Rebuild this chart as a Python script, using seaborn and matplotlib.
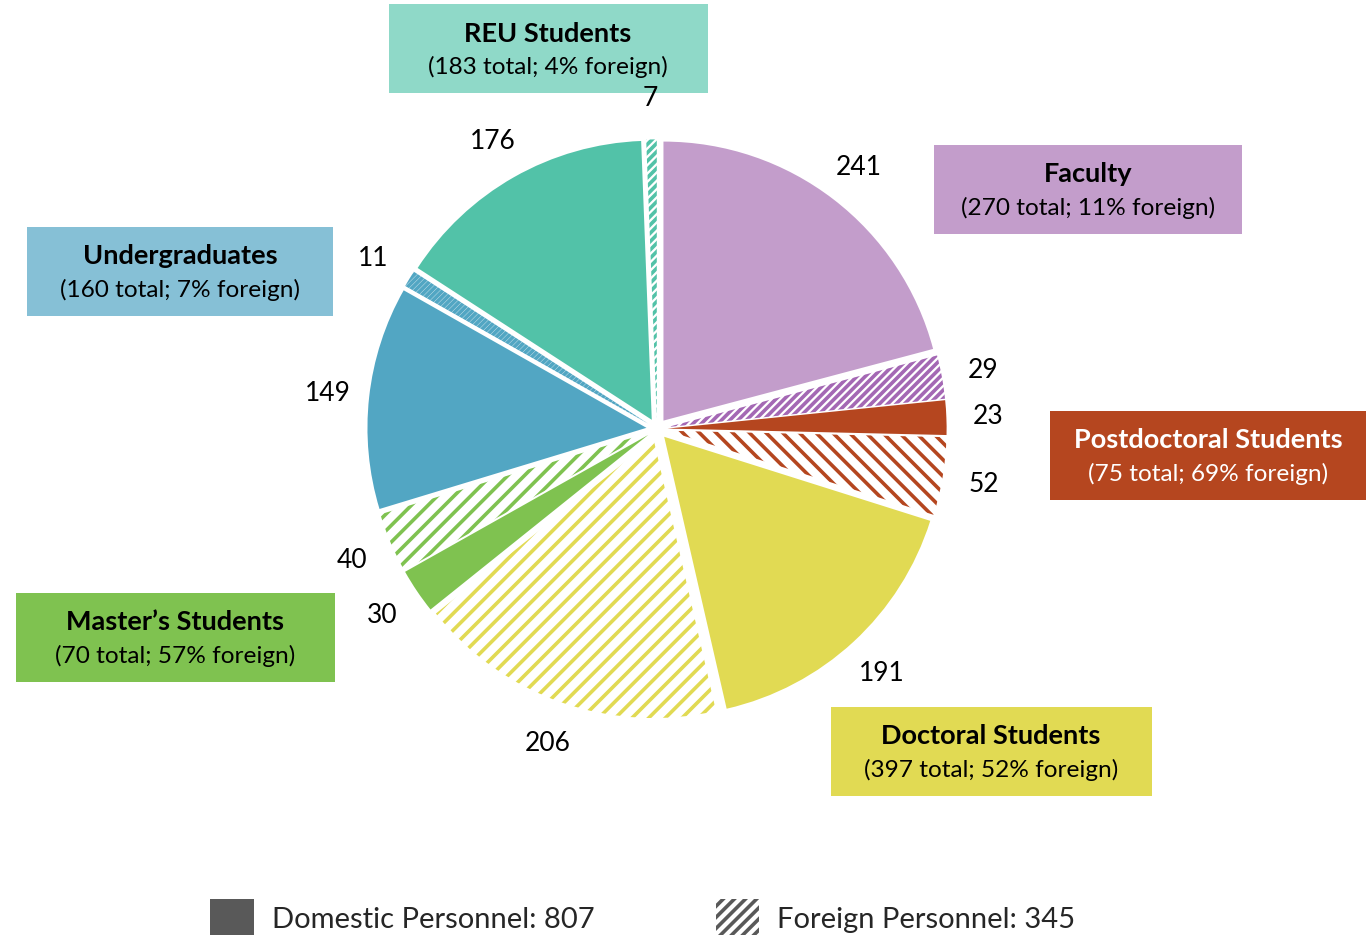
import matplotlib
matplotlib.use("Agg")
import matplotlib.pyplot as plt
from matplotlib.patches import Patch
import seaborn as sns

# groups, clockwise from 12 o'clock
groups = ["Faculty", "Postdoctoral Students", "Doctoral Students",
          "Master\u2019s Students", "Undergraduates", "REU Students"]
domestic = [241, 23, 191, 30, 149, 176]
foreign = [29, 52, 206, 40, 11, 7]
totals = [270, 75, 397, 70, 160, 183]
foreign_pct = [11, 69, 52, 57, 7, 4]
colors = ["#C39DCB", "#B5461F", "#E1DA53", "#7FC250", "#52A6C3", "#52C2A8"]
box_colors = ["#C39DCB", "#B5461F", "#E1DA53", "#7FC250", "#86C0D6", "#8FD9C8"]
hatch_colors = ["#A468B4", "#B5461F", "#E1DA53", "#7FC250", "#52A6C3", "#52C2A8"]
hatches = ["////", "\\\\", "//", "//", "//////", "////"]
total_domestic = 807
total_foreign = 345

# label boxes (centre in pixels, top-left origin)
box_pos = [(1088, 190), (1208, 456), (991, 752), (175, 638), (180, 272), (548, 49)]
box_w = [308, 316, 321, 319, 306, 319]


def main():
    sns.set_theme(style="white")
    plt.rcParams["font.family"] = ["Lato", "DejaVu Sans"]
    plt.rcParams["hatch.linewidth"] = 2.6

    W, H = 1366, 937
    fig = plt.figure(figsize=(W / 100, H / 100), dpi=100)
    ax = fig.add_axes([0, 0, 1, 1])

    values, labels, wstyle = [], [], []
    for d, f, c, hc, h in zip(domestic, foreign, colors, hatch_colors, hatches):
        values += [d, f]
        labels += [str(d), str(f)]
        wstyle += [(c, None), (hc, h)]

    radius = 279
    wedges, texts = ax.pie(
        values, labels=labels, startangle=90, counterclock=False,
        center=(657, H - 430), radius=radius, explode=[0.038 * radius] * len(values),
        labeldistance=1.15, textprops=dict(fontsize=19, color="black", zorder=6),
        frame=True,
    )
    ax.set_xlim(0, W)
    ax.set_ylim(0, H)
    ax.axis("off")
    for w, (c, h) in zip(wedges, wstyle):
        w.set_linewidth(0)
        if h is None:
            w.set_facecolor(c)
            w.set_edgecolor("none")
        else:
            w.set_facecolor("white")
            w.set_edgecolor(c)
            w.set_hatch(h)
    for t in texts:
        t.set_horizontalalignment("center")
        t.set_verticalalignment("center")

    for g, tot, pct, bc, bw, (bx, by) in zip(groups, totals, foreign_pct,
                                             box_colors, box_w, box_pos):
        tc = "white" if bc == "#B5461F" else "black"
        ax.add_patch(plt.Rectangle((bx - bw / 2, H - by - 44.5), bw, 89,
                                   facecolor=bc, edgecolor="none", zorder=3))
        ax.text(bx, H - by + 15.5, g, ha="center", va="center", fontsize=19.5,
                fontweight="bold", color=tc, zorder=4)
        ax.text(bx, H - by - 17.5, f"({tot} total; {pct}% foreign)", ha="center",
                va="center", fontsize=17.6, color=tc, zorder=4)

    handles = [
        Patch(facecolor="#595959", edgecolor="none"),
        Patch(facecolor="white", edgecolor="#595959", hatch="///", linewidth=0),
    ]
    fig.legend(handles, [f"Domestic Personnel: {total_domestic}",
                         f"Foreign Personnel: {total_foreign}"],
               loc="center left", bbox_to_anchor=(210 / W, (H - 918) / H),
               ncol=2, frameon=False, fontsize=21, handlelength=1.5,
               handleheight=1.5, handletextpad=0.62, columnspacing=4.15,
               borderpad=0, borderaxespad=0)

    plt.savefig("out.png", dpi=100)
    plt.close()


if __name__ == "__main__":
    main()
